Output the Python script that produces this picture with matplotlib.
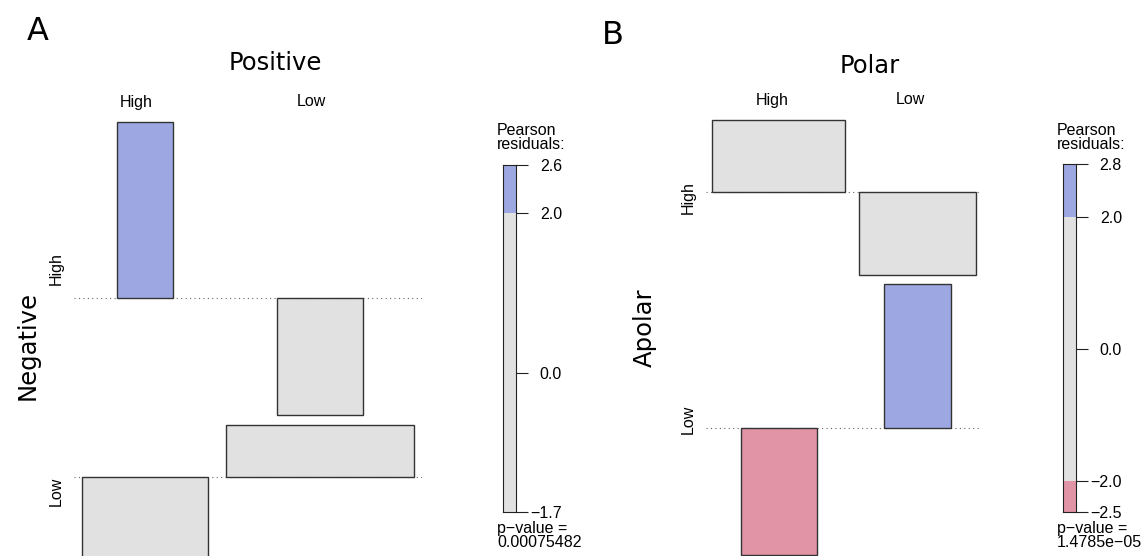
import numpy as np
import matplotlib.pyplot as plt
from matplotlib.patches import Rectangle

W, H = 1146, 556
fig = plt.figure(figsize=(W / 100, H / 100), dpi=100)

levels = ["High", "Low"]

# Panel A: rows = Negative (High, Low), columns = Positive (High, Low)
resid_a = np.array([[2.60, -1.74],
                    [-1.18, 0.77]])
# relative sqrt(expected) -> box widths
width_a = np.array([[0.298, 0.452],
                    [0.670, 1.000]])
pval_a = "0.00075482"

# Panel B: rows = Apolar (High, Low), columns = Polar (High, Low)
resid_b = np.array([[1.40, -1.61],
                    [-2.47, 2.80]])
width_b = np.array([[1.000, 0.873],
                    [0.567, 0.500]])
pval_b = "1.4785e\u221205"

BLUE = "#9da8e2"
PINK = "#e294a7"
GREY = "#e1e1e1"
SANS = "Liberation Sans"
TITLE = "DejaVu Sans"


def px_axes(x0, x1, y0, y1):
    # axes from pixel box (top-left origin)
    return fig.add_axes([x0 / W, 1 - y1 / H, (x1 - x0) / W, (y1 - y0) / H])


def fill_for(r):
    if r > 2:
        return BLUE
    if r < -2:
        return PINK
    return GREY


def assoc(box, resid, width, gap_x=0.056, gap_y=0.0235, pad=0.025):
    ax = px_axes(*box)
    ax.set_axis_off()
    colw = width.max(axis=0)
    gx = gap_x * colw.sum()
    centers = [colw[0] / 2, colw[0] + gx + colw[1] / 2]
    pos = resid.clip(min=0).max(axis=1)
    neg = (-resid).clip(min=0).max(axis=1)
    gy = gap_y * (pos.sum() + neg.sum())
    base0 = -pos[0]
    base1 = base0 - neg[0] - gy - pos[1]
    bases = [base0, base1]
    tops = [0, base0 - neg[0] - gy]
    bottoms = [base0 - neg[0], base1 - neg[1]]
    p = pad * colw.sum()
    ax.set_xlim(-p, colw.sum() + gx + p)
    ax.set_ylim(bottoms[1], 0)
    for i in range(2):
        ax.axhline(bases[i], ls=(0, (1, 3)), color="#666666", lw=0.8, zorder=1)
        for j in range(2):
            r, w = resid[i, j], width[i, j]
            y = bases[i] if r > 0 else bases[i] + r
            ax.add_patch(Rectangle((centers[j] - w / 2, y), w, abs(r),
                                   facecolor=fill_for(r), edgecolor="#333333",
                                   lw=1.0, zorder=2, clip_on=False))
    for j in range(2):
        ax.annotate(levels[j], xy=(centers[j] - gx / 2, 1),
                    xycoords=("data", "axes fraction"), xytext=(0, 20),
                    textcoords="offset pixels", ha="center", va="center",
                    fontsize=11.5, family=SANS)
    for i in range(2):
        ax.annotate(levels[i], xy=(0, (tops[i] + bottoms[i]) / 2),
                    xycoords=("axes fraction", "data"), xytext=(-18, 0),
                    textcoords="offset pixels", ha="center", va="center",
                    rotation=90, fontsize=11.5, family=SANS)
    return ax


def legend(box, resid, pval, tx):
    ax = px_axes(*box)
    lo, hi = resid.min(), resid.max()
    ax.set_xlim(0, 1)
    ax.set_ylim(lo, hi)
    for a, b, c in [(2, hi, BLUE), (-2, 2, GREY), (lo, -2, PINK)]:
        a, b = max(a, lo), min(b, hi)
        if b > a:
            ax.axhspan(a, b, color=c, lw=0)
    for s in ax.spines.values():
        s.set_color("#222222")
        s.set_linewidth(0.8)
    ticks = [hi] + ([2.0] if hi > 2 else []) + [0.0] + ([-2.0] if lo < -2 else []) + [lo]
    ax.set_xticks([])
    ax.yaxis.tick_right()
    ax.set_yticks(ticks)
    ax.set_yticklabels([f"{t:.1f}".replace("-", "\u2212") for t in ticks],
                       ha="right", family=SANS, fontsize=11.5)
    ax.tick_params(axis="y", length=8.6, width=0.8, pad=24.5, color="#222222")
    fig.text(tx / W, 1 - 123 / H, "Pearson\nresiduals:", ha="left", va="top",
             fontsize=11.5, family=SANS, linespacing=0.95)
    fig.text(tx / W, 1 - 521 / H, "p\u2212value =\n" + pval, ha="left", va="top",
             fontsize=11.5, family=SANS, linespacing=0.95)


assoc((74, 422, 122, 557), resid_a, width_a)
legend((503, 516, 165, 512), resid_a, pval_a, 497)
assoc((706, 982, 120, 555), resid_b, width_b)
legend((1063, 1076, 164, 512), resid_b, pval_b, 1057)

fig.text(38 / W, 1 - 32 / H, "A", fontsize=23, family=TITLE, ha="center", va="center")
fig.text(613 / W, 1 - 36 / H, "B", fontsize=23, family=TITLE, ha="center", va="center")
fig.text(275 / W, 1 - 63 / H, "Positive", fontsize=17.5, family=TITLE, ha="center", va="center")
fig.text(870 / W, 1 - 66 / H, "Polar", fontsize=17.5, family=TITLE, ha="center", va="center")
fig.text(28 / W, 1 - 345 / H, "Negative", fontsize=17.5, family=TITLE, ha="center",
         va="center", rotation=90)
fig.text(645 / W, 1 - 328 / H, "Apolar", fontsize=17.5, family=TITLE, ha="center",
         va="center", rotation=90)

fig.savefig("out.png", dpi=100)
